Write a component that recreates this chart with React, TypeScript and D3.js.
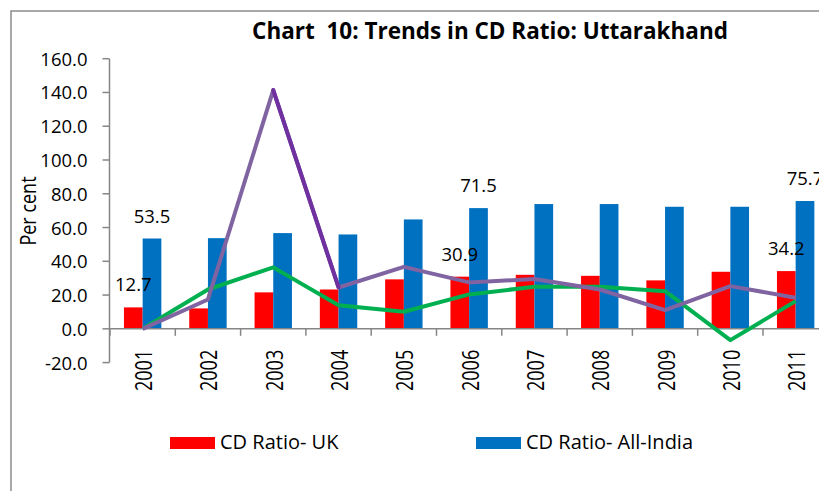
import React, { useEffect, useRef } from 'react';
import * as d3 from 'd3';

// Data
const years = ['2001', '2002', '2003', '2004', '2005', '2006', '2007', '2008', '2009', '2010', '2011'];
const cdUK = [12.7, 12.1, 21.6, 23.3, 29.3, 30.9, 32.0, 31.4, 28.7, 33.8, 34.2];
const cdIndia = [53.5, 53.7, 56.7, 55.9, 64.8, 71.5, 73.9, 73.9, 72.3, 72.3, 75.7];
const purpleSeries = [0.0, 17.4, 141.4, 24.5, 36.7, 27.5, 29.5, 23.3, 11.1, 25.3, 18.4];
const greenSeries = [0.0, 23.3, 36.4, 14.0, 10.1, 20.4, 24.9, 24.9, 22.3, -6.7, 16.4];
const yTicks = [-20, 0, 20, 40, 60, 80, 100, 120, 140, 160];
const labelledYears = ['2001', '2006', '2011'];
const legendItems = [
  { name: 'CD Ratio- UK', color: '#ff0000' },
  { name: 'CD Ratio- All-India', color: '#0070c0' }
];

const App = () => {
  const svgRef = useRef(null);

  useEffect(() => {
    d3.select(svgRef.current).selectAll('*').remove();

    const width = 819;
    const height = 491;
    const font = '"Open Sans", "DejaVu Sans", sans-serif';
    const axisColor = '#868686';

    const svg = d3.select(svgRef.current)
      .attr('width', width)
      .attr('height', height);

    // outer frame (top and left edges visible)
    svg.append('path')
      .attr('d', `M11,${height} L11,11 L${width},11`)
      .attr('fill', 'none')
      .attr('stroke', '#8c8c8c')
      .attr('stroke-width', 1.5);

    // scales
    const x = d3.scaleBand()
      .domain(years)
      .range([110, 110 + 65.3 * years.length])
      .padding(0);

    const xInner = d3.scaleBand()
      .domain(['uk', 'india'])
      .range([-18.7, 18.7])
      .padding(0);

    const y = d3.scaleLinear()
      .domain([-20, 160])
      .range([362.6, 58.7]);

    // title
    svg.append('text')
      .attr('x', 490)
      .attr('y', 39)
      .attr('text-anchor', 'middle')
      .attr('font-family', font)
      .attr('font-weight', 'bold')
      .attr('font-size', '22.5px')
      .attr('fill', '#000')
      .style('white-space', 'pre')
      .text('Chart  10: Trends in CD Ratio: Uttarakhand');

    // y axis
    const yAxis = svg.append('g').attr('transform', 'translate(109.5,0)');
    yAxis.append('line')
      .attr('y1', y(-20)).attr('y2', y(160))
      .attr('stroke', axisColor).attr('stroke-width', 1.5);
    yAxis.selectAll('.yt')
      .data(yTicks)
      .enter()
      .append('line')
      .attr('x1', -7).attr('x2', 0)
      .attr('y1', d => y(d)).attr('y2', d => y(d))
      .attr('stroke', axisColor).attr('stroke-width', 1.5);
    yAxis.selectAll('.yl')
      .data(yTicks)
      .enter()
      .append('text')
      .attr('x', -22)
      .attr('y', d => y(d) + 7)
      .attr('text-anchor', 'end')
      .attr('font-family', font)
      .attr('font-size', '18.5px')
      .attr('fill', '#000')
      .text(d => d.toFixed(1));

    svg.append('text')
      .attr('transform', 'translate(36,211) rotate(-90) scale(1,1.2)')
      .attr('text-anchor', 'middle')
      .attr('font-family', font)
      .attr('font-size', '18px')
      .attr('fill', '#000')
      .text('Per cent');

    // bars
    const groups = svg.selectAll('.yr')
      .data(years)
      .enter()
      .append('g')
      .attr('transform', d => `translate(${x(d) + x.bandwidth() / 2},0)`);

    groups.append('rect')
      .attr('x', xInner('uk'))
      .attr('width', xInner.bandwidth())
      .attr('y', (d, i) => y(cdUK[i]))
      .attr('height', (d, i) => y(0) - y(cdUK[i]))
      .attr('fill', '#ff0000');

    groups.append('rect')
      .attr('x', xInner('india'))
      .attr('width', xInner.bandwidth())
      .attr('y', (d, i) => y(cdIndia[i]))
      .attr('height', (d, i) => y(0) - y(cdIndia[i]))
      .attr('fill', '#0070c0');

    // x axis
    svg.append('line')
      .attr('x1', 109.5).attr('x2', width)
      .attr('y1', y(0)).attr('y2', y(0))
      .attr('stroke', axisColor).attr('stroke-width', 1.5);
    svg.selectAll('.xt')
      .data(years)
      .enter()
      .append('line')
      .attr('x1', d => x(d)).attr('x2', d => x(d))
      .attr('y1', y(0)).attr('y2', y(0) + 7)
      .attr('stroke', axisColor).attr('stroke-width', 1.5);
    // the source chart is stretched horizontally, so rotated labels look thicker
    svg.selectAll('.xl')
      .data(years)
      .enter()
      .append('text')
      .attr('transform', d => `translate(${x(d) + x.bandwidth() / 2 + 9.5},${y(0) + 21}) rotate(-90) scale(1,1.28)`)
      .attr('text-anchor', 'end')
      .attr('font-family', font)
      .attr('font-size', '18px')
      .attr('fill', '#000')
      .text(d => d);

    // lines
    const line = d3.line()
      .x((d, i) => x(years[i]) + x.bandwidth() / 2)
      .y(d => y(d));

    svg.append('path')
      .attr('d', line(greenSeries))
      .attr('fill', 'none')
      .attr('stroke', '#00b050')
      .attr('stroke-width', 4)
      .attr('stroke-linejoin', 'round');

    svg.append('path')
      .attr('d', line(purpleSeries))
      .attr('fill', 'none')
      .attr('stroke', '#8064a2')
      .attr('stroke-width', 4)
      .attr('stroke-linejoin', 'round');

    // darker segment 2003 -> 2004
    const seg = d3.line()
      .x(d => x(d[0]) + x.bandwidth() / 2)
      .y(d => y(d[1]));
    svg.append('path')
      .attr('d', seg([[years[2], purpleSeries[2]], [years[3], purpleSeries[3]]]))
      .attr('fill', 'none')
      .attr('stroke', '#7030a0')
      .attr('stroke-width', 4)
      .attr('stroke-linecap', 'round');

    // data labels
    const labelled = years.map((yr, i) => ({ yr, i })).filter(d => labelledYears.includes(d.yr));
    const addLabels = (values, key) => {
      svg.selectAll(`.lbl-${key}`)
        .data(labelled)
        .enter()
        .append('text')
        .attr('x', d => x(d.yr) + x.bandwidth() / 2 + xInner(key) + xInner.bandwidth() / 2)
        .attr('y', d => y(values[d.i]) - 16)
        .attr('text-anchor', 'middle')
        .attr('font-family', font)
        .attr('font-size', '18.5px')
        .attr('fill', '#000')
        .text(d => values[d.i].toFixed(1));
    };
    addLabels(cdUK, 'uk');
    addLabels(cdIndia, 'india');

    // legend
    const legendX = [170, 476];
    const legend = svg.selectAll('.lg')
      .data(legendItems)
      .enter()
      .append('g')
      .attr('transform', (d, i) => `translate(${legendX[i]},437)`);
    legend.append('rect')
      .attr('width', 45)
      .attr('height', 12)
      .attr('fill', d => d.color);
    legend.append('text')
      .attr('x', 50)
      .attr('y', 12)
      .attr('font-family', font)
      .attr('font-size', '20px')
      .attr('fill', '#000')
      .text(d => d.name);
  }, []);

  return (
    <div style={{ position: 'absolute', left: 0, top: 0 }}>
      <svg ref={svgRef} style={{ display: 'block' }}></svg>
    </div>
  );
};

export default App;
